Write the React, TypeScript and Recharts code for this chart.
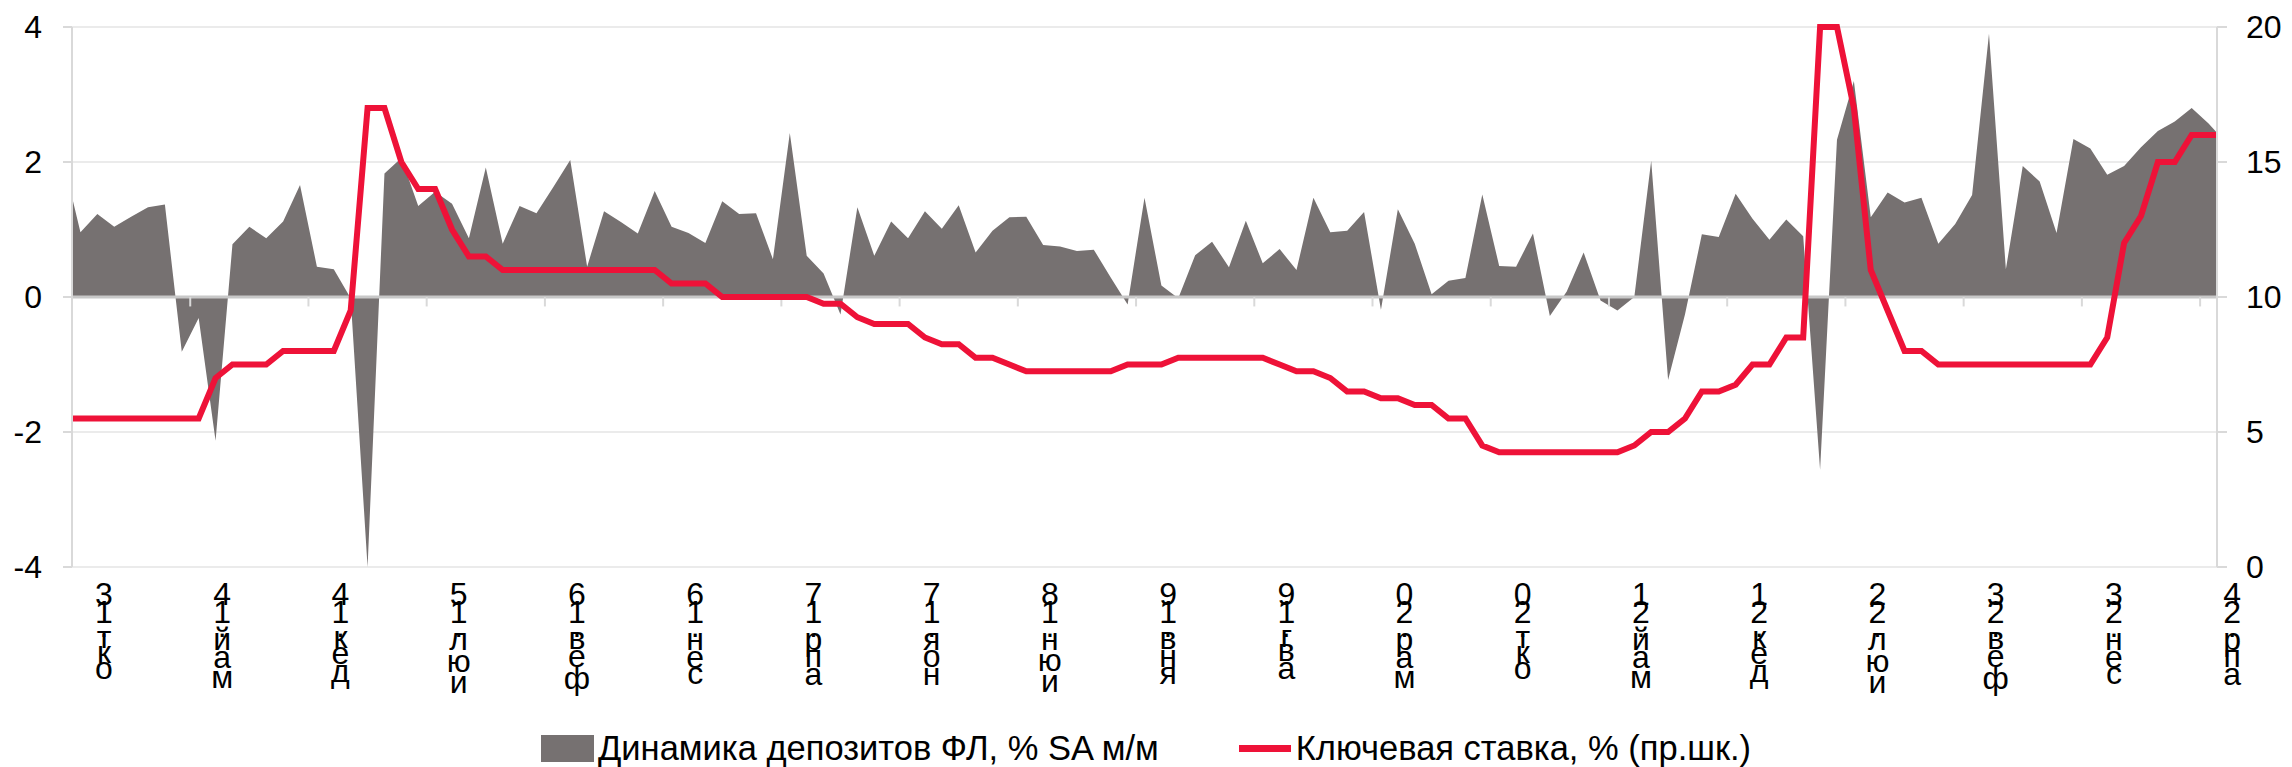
import { ComposedChart, Area, Line, XAxis, YAxis, CartesianGrid, ReferenceLine, Legend } from "recharts"

const FONT = '"Liberation Sans", Arial, sans-serif'
const GRAY = "#767171"
const RED = "#ee1238"

// labels under the axis, one every 7 months
const tickLabels = [
  "окт.13", "май.14", "дек.14", "июл.15", "фев.16", "сен.16", "апр.17", "ноя.17", "июн.18", "янв.19",
  "авг.19", "мар.20", "окт.20", "май.21", "дек.21", "июл.22", "фев.23", "сен.23", "апр.24",
]

// monthly, first and last value sit just outside the axis (only the slope at the edges shows)
const deposits = [
  2.0,
  0.96, 1.23, 1.04, 1.19, 1.33, 1.37, -0.81, -0.31, -2.13, 0.78,
  1.04, 0.87, 1.12, 1.66, 0.45, 0.41, -0.02, -4.0, 1.83, 2.06,
  1.35, 1.56, 1.38, 0.87, 1.92, 0.79, 1.35, 1.24, 1.63, 2.03,
  0.45, 1.27, 1.11, 0.94, 1.57, 1.04, 0.95, 0.8, 1.42, 1.23,
  1.24, 0.56, 2.43, 0.61, 0.35, -0.26, 1.33, 0.61, 1.12, 0.87,
  1.27, 1.01, 1.36, 0.66, 0.98, 1.18, 1.19, 0.77, 0.75, 0.68,
  0.7, 0.29, -0.11, 1.47, 0.17, -0.02, 0.62, 0.82, 0.44, 1.13,
  0.5, 0.71, 0.4, 1.47, 0.96, 0.98, 1.26, -0.19, 1.3, 0.79,
  0.04, 0.24, 0.28, 1.52, 0.46, 0.45, 0.94, -0.28, 0.08, 0.66,
  -0.05, -0.2, 0.0, 2.02, -1.23, -0.26, 0.93, 0.89, 1.53, 1.16,
  0.85, 1.15, 0.9, -2.56, 2.33, 3.2, 1.18, 1.55, 1.4, 1.47,
  0.79, 1.08, 1.51, 3.9, 0.41, 1.94, 1.71, 0.95, 2.34, 2.2,
  1.81, 1.94, 2.22, 2.46, 2.6, 2.8, 2.57,
  2.3,
]

const keyRate = [
  5.5,
  5.5, 5.5, 5.5, 5.5, 5.5, 5.5, 5.5, 5.5, 7.0, 7.5,
  7.5, 7.5, 8.0, 8.0, 8.0, 8.0, 9.5, 17, 17, 15,
  14, 14, 12.5, 11.5, 11.5, 11, 11, 11, 11, 11,
  11, 11, 11, 11, 11, 10.5, 10.5, 10.5, 10, 10,
  10, 10, 10, 10, 9.75, 9.75, 9.25, 9, 9, 9,
  8.5, 8.25, 8.25, 7.75, 7.75, 7.5, 7.25, 7.25, 7.25, 7.25,
  7.25, 7.25, 7.5, 7.5, 7.5, 7.75, 7.75, 7.75, 7.75, 7.75,
  7.75, 7.5, 7.25, 7.25, 7.0, 6.5, 6.5, 6.25, 6.25, 6.0,
  6.0, 5.5, 5.5, 4.5, 4.25, 4.25, 4.25, 4.25, 4.25, 4.25,
  4.25, 4.25, 4.5, 5.0, 5.0, 5.5, 6.5, 6.5, 6.75, 7.5,
  7.5, 8.5, 8.5, 20, 20, 17, 11, 9.5, 8.0, 8.0,
  7.5, 7.5, 7.5, 7.5, 7.5, 7.5, 7.5, 7.5, 7.5, 7.5,
  8.5, 12, 13, 15, 15, 16, 16,
  16,
]

const leftTicks = [-4, -2, 0, 2, 4]
const rightTicks = [0, 5, 10, 15, 20]

const data = deposits.map((dep, j) => ({ i: j - 1, dep, rate: keyRate[j] }))
const lastIdx = deposits.length - 3
// tick marks sit between months, every 7th
const boundaries = tickLabels.map((_, k) => k * 7 - 0.5)

let ctx: CanvasRenderingContext2D | null = null
function adv(ch: string) {
  if (!ctx) {
    ctx = document.createElement("canvas").getContext("2d")
    ctx!.font = `32px ${FONT}`
  }
  return ctx!.measureText(ch).width
}

// characters stacked upright, read from the bottom up
function StackedTick(props: any) {
  const { x, y, payload } = props
  const k = Math.round((payload.value + 0.5) / 7)
  const chars = [...(tickLabels[k] ?? "")].reverse()
  let cy = y + 18
  const spans = chars.map((c, n) => {
    const w = adv(c)
    const mid = cy + w / 2
    cy += w
    return (
      <tspan key={n} x={x + 32} y={mid + 11.5}>
        {c}
      </tspan>
    )
  })
  return (
    <text textAnchor="middle" fontSize={32} fontFamily={FONT} fill="#000">
      {spans}
    </text>
  )
}

function LegendBox() {
  return (
    <div
      style={{
        display: "flex",
        justifyContent: "center",
        alignItems: "center",
        gap: 80,
        height: 60,
        paddingTop: 22,
        boxSizing: "border-box",
        fontFamily: FONT,
        fontSize: 34.5,
        color: "#000",
      }}
    >
      <span style={{ display: "flex", alignItems: "center" }}>
        <span style={{ display: "inline-block", width: 53, height: 27, background: GRAY, marginRight: 4 }} />
        Динамика депозитов ФЛ, % SA м/м
      </span>
      <span style={{ display: "flex", alignItems: "center" }}>
        <span style={{ display: "inline-block", width: 52, height: 7, background: RED, marginRight: 5 }} />
        Ключевая ставка, % (пр.шк.)
      </span>
    </div>
  )
}

export default function App() {
  const axisStyle = { stroke: "#d9d9d9", strokeWidth: 2 }
  const tickStyle = { fill: "#000", fontSize: 32, fontFamily: FONT }
  return (
    <div style={{ position: "absolute", left: 0, top: 0, background: "#fff" }}>
      <ComposedChart width={2292} height={767} data={data} margin={{ top: 27, right: 0, bottom: 0, left: 0 }}>
        <CartesianGrid vertical={false} stroke="#ebebeb" strokeWidth={2} />
        <XAxis
          dataKey="i"
          type="number"
          domain={[-0.5, lastIdx + 0.5]}
          allowDataOverflow
          ticks={boundaries}
          interval={0}
          axisLine={false}
          tickLine={false}
          tickSize={0}
          tickMargin={0}
          height={140}
          tick={<StackedTick />}
        />
        <YAxis
          domain={[-4, 4]}
          ticks={leftTicks}
          width={72}
          tickSize={9}
          tickMargin={21}
          axisLine={axisStyle}
          tickLine={axisStyle}
          tick={tickStyle}
          allowDataOverflow
        />
        <YAxis
          yAxisId="r"
          orientation="right"
          domain={[0, 20]}
          ticks={rightTicks}
          width={75}
          tickSize={10}
          tickMargin={19}
          axisLine={axisStyle}
          tickLine={axisStyle}
          tick={tickStyle}
        />
        <Area
          dataKey="dep"
          type="linear"
          fill={GRAY}
          fillOpacity={1}
          stroke="none"
          baseValue={0}
          isAnimationActive={false}
        />
        <ReferenceLine y={0} stroke="#c8c8c8" strokeWidth={3} />
        {boundaries.slice(1).map((b) => (
          <ReferenceLine key={b} segment={[{ x: b, y: 0 }, { x: b, y: -0.14 }]} stroke="#d9d9d9" strokeWidth={2} />
        ))}
        <Line
          yAxisId="r"
          dataKey="rate"
          type="linear"
          stroke={RED}
          strokeWidth={6}
          dot={false}
          activeDot={false}
          isAnimationActive={false}
        />
        <Legend verticalAlign="bottom" height={60} content={<LegendBox />} />
      </ComposedChart>
    </div>
  )
}
